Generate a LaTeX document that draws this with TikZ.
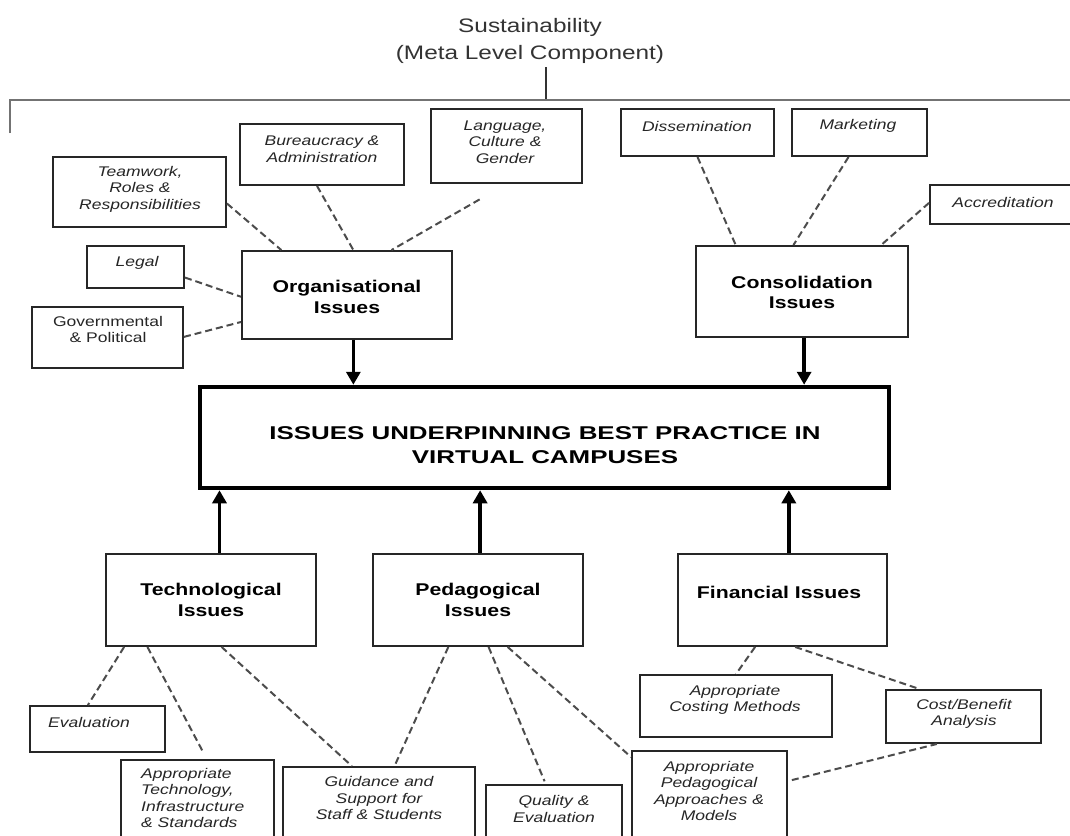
\documentclass[tikz,border=0pt]{standalone}
\usepackage{fontspec}
\newfontfamily\labelfont[FakeStretch=1.25]{Liberation Sans}
\newfontfamily\hubfont[FakeStretch=1.4]{Liberation Sans}
\usetikzlibrary{arrows.meta,calc}

\begin{document}
\begin{tikzpicture}[x=1pt,y=-1pt,
  box/.style={draw=black!85, line width=1.9pt, inner sep=0pt, fill=none},
  hubbox/.style={draw=black, line width=4.5pt, inner sep=0pt},
  smalltxt/.style={font=\labelfont\itshape\fontsize{14}{16.5}\selectfont, align=center, inner sep=0pt, text=black!85},
  plaintxt/.style={font=\labelfont\fontsize{14}{16.5}\selectfont, align=center, inner sep=0pt, text=black!85},
  boldtxt/.style={font=\labelfont\bfseries\fontsize{17}{20.5}\selectfont, align=center, inner sep=0pt},
  titletxt/.style={font=\labelfont\fontsize{19.5}{27}\selectfont, align=center, inner sep=0pt, text=black!80},
  hubtxt/.style={font=\hubfont\bfseries\fontsize{18.5}{24}\selectfont, align=center, inner sep=0pt},
  dashline/.style={draw=black!70, line width=2pt, dash pattern=on 7pt off 4pt},
  arrowline/.style={draw=black, line width=3.6pt, -{Triangle[width=14pt,length=13pt]}},
  bracket/.style={draw=black!55, line width=2.4pt}
]
\clip (0,0) rectangle (1070,835);
\fill[white] (0,0) rectangle (1070,835);

% meta level heading and its bracket
\node[titletxt] (title) at (530,40.5) {Sustainability\\(Meta Level Component)};
\coordinate (stem) at (546,67);
\coordinate (join) at (546,100);
\coordinate (brL) at (10,133);
\coordinate (brLtop) at (10,100);
\coordinate (brR) at (1075,100);
\draw[draw=black!80, line width=1.4pt] (stem) -- (join);
\draw[bracket] (brL) -- (brLtop) -- (brR);

% central box
\node[hubbox, minimum width=689pt, minimum height=101pt] (hub) at (544.5,437.5) {};
\node[hubtxt] (hubt) at (545,445) {ISSUES UNDERPINNING BEST PRACTICE IN\\VIRTUAL CAMPUSES};

% main issue boxes
\node[box, minimum width=210pt, minimum height=88pt] (org) at (347,295) {};
\node[boldtxt] (orgt) at (347,297) {Organisational\\Issues};
\node[box, minimum width=212pt, minimum height=91pt] (cons) at (802,291.5) {};
\node[boldtxt] (const) at (802,292.5) {Consolidation\\Issues};
\node[box, minimum width=210pt, minimum height=92pt] (tech) at (211,600) {};
\node[boldtxt] (techt) at (211,600) {Technological\\Issues};
\node[box, minimum width=210pt, minimum height=92pt] (ped) at (478,600) {};
\node[boldtxt] (pedt) at (478,600) {Pedagogical\\Issues};
\node[box, minimum width=209pt, minimum height=92pt] (fin) at (782.5,600) {};
\node[boldtxt] (fint) at (779,592) {Financial Issues};

% organisational sub-issues
\node[box, minimum width=173pt, minimum height=70pt] (team) at (139.5,192) {};
\node[smalltxt] (teamt) at (140,189) {Teamwork,\\Roles \&\\Responsibilities};
\node[box, minimum width=164pt, minimum height=61pt] (bureau) at (322,154.5) {};
\node[smalltxt] (bureaut) at (322,149) {Bureaucracy \&\\Administration};
\node[box, minimum width=151pt, minimum height=74pt] (lang) at (506.5,146) {};
\node[smalltxt] (langt) at (505,142) {Language,\\Culture \&\\Gender};
\node[box, minimum width=97pt, minimum height=42pt] (legal) at (135.5,267) {};
\node[smalltxt] (legalt) at (137,263) {Legal};
\node[box, minimum width=151pt, minimum height=61pt] (govt) at (107.5,337.5) {};
\node[plaintxt] (govtt) at (108,329.5) {Governmental\\\& Political};

% consolidation sub-issues
\node[box, minimum width=153pt, minimum height=47pt] (dissem) at (697.5,132.5) {};
\node[smalltxt] (dissemt) at (697,126) {Dissemination};
\node[box, minimum width=135pt, minimum height=47pt] (market) at (859.5,132.5) {};
\node[smalltxt] (markett) at (858,126) {Marketing};
\node[box, minimum width=146pt, minimum height=39pt] (accred) at (1003,204.5) {};
\node[smalltxt] (accredt) at (1003,202) {Accreditation};

% technological, pedagogical and financial sub-issues
\node[box, minimum width=135pt, minimum height=46pt] (eval) at (97.5,729) {};
\node[smalltxt] (evalt) at (89,722) {Evaluation};
\node[box, minimum width=153pt, minimum height=90pt] (apptech) at (197.5,805) {};
\node[smalltxt, align=left, anchor=west] (apptecht) at (141,798) {Appropriate\\Technology,\\Infrastructure\\\& Standards};
\node[box, minimum width=192pt, minimum height=83pt] (guide) at (379,808.5) {};
\node[smalltxt] (guidet) at (379,798) {Guidance and\\Support for\\Staff \& Students};
\node[box, minimum width=136pt, minimum height=65pt] (quality) at (554,817.5) {};
\node[smalltxt] (qualityt) at (554,809) {Quality \&\\Evaluation};
\node[box, minimum width=155pt, minimum height=99pt] (pedapp) at (709.5,800.5) {};
\node[smalltxt] (pedappt) at (709,791) {Appropriate\\Pedagogical\\Approaches \&\\Models};
\node[box, minimum width=192pt, minimum height=62pt] (costing) at (736,706) {};
\node[smalltxt] (costingt) at (735,700) {Appropriate\\Costing Methods};
\node[box, minimum width=155pt, minimum height=53pt] (costben) at (963.5,716.5) {};
\node[smalltxt] (costbent) at (964,714) {Cost/Benefit\\Analysis};

% dashed links, organisational
\draw[dashline] ($(team.north east)!0.66!(team.south east)$) -- ($(org.north west)!0.19!(org.north east)$);
\draw[dashline] ($(bureau.south west)!0.47!(bureau.south east)$) -- ($(org.north west)!0.53!(org.north east)$);
\draw[dashline, shorten <=31pt] (lang.south) -- ($(org.north west)!0.71!(org.north east)$);
\draw[dashline] ($(legal.north east)!0.74!(legal.south east)$) -- ($(org.north west)!0.52!(org.south west)$);
\draw[dashline] ($(govt.north east)!0.49!(govt.south east)$) -- ($(org.north west)!0.80!(org.south west)$);

% dashed links, consolidation
\draw[dashline] ($(dissem.south west)!0.50!(dissem.south east)$) -- ($(cons.north west)!0.19!(cons.north east)$);
\draw[dashline] ($(market.south west)!0.42!(market.south east)$) -- ($(cons.north west)!0.46!(cons.north east)$);
\draw[dashline] ($(accred.north west)!0.46!(accred.south west)$) -- ($(cons.north west)!0.87!(cons.north east)$);

% dashed links, lower half
\draw[dashline] ($(tech.south west)!0.09!(tech.south east)$) -- ($(eval.north west)!0.43!(eval.north east)$);
\draw[dashline, shorten >=9pt] ($(tech.south west)!0.20!(tech.south east)$) -- ($(apptech.north west)!0.56!(apptech.north east)$);
\draw[dashline] ($(tech.south west)!0.55!(tech.south east)$) -- ($(guide.north west)!0.36!(guide.north east)$);
\draw[dashline] ($(ped.south west)!0.36!(ped.south east)$) -- ($(guide.north west)!0.58!(guide.north east)$);
\draw[dashline, shorten >=3pt] ($(ped.south west)!0.55!(ped.south east)$) -- ($(quality.north west)!0.44!(quality.north east)$);
\draw[dashline] ($(ped.south west)!0.64!(ped.south east)$) -- ($(pedapp.north west)+(0,7)$);
\draw[dashline] ($(fin.south west)!0.37!(fin.south east)$) -- (costing.north);
\draw[dashline] ($(fin.south west)!0.56!(fin.south east)$) -- ($(costben.north west)!0.22!(costben.north east)$);
\draw[dashline, shorten <=4pt] ($(pedapp.north east)+(0,31)$) -- ($(costben.south west)!0.33!(costben.south east)$);

% arrows into the central box
\coordinate (orgOut) at ($(org.south west)!0.53!(org.south east)$);
\coordinate (consOut) at ($(cons.south west)!0.51!(cons.south east)$);
\coordinate (techOut) at ($(tech.north west)!0.54!(tech.north east)$);
\coordinate (pedOut) at ($(ped.north west)!0.51!(ped.north east)$);
\coordinate (finOut) at ($(fin.north west)!0.53!(fin.north east)$);
\draw[arrowline] (orgOut) -- (orgOut |- hub.north);
\draw[arrowline] (consOut) -- (consOut |- hub.north);
\draw[arrowline] (techOut) -- (techOut |- hub.south);
\draw[arrowline] (pedOut) -- (pedOut |- hub.south);
\draw[arrowline] (finOut) -- (finOut |- hub.south);
\end{tikzpicture}
\end{document}
